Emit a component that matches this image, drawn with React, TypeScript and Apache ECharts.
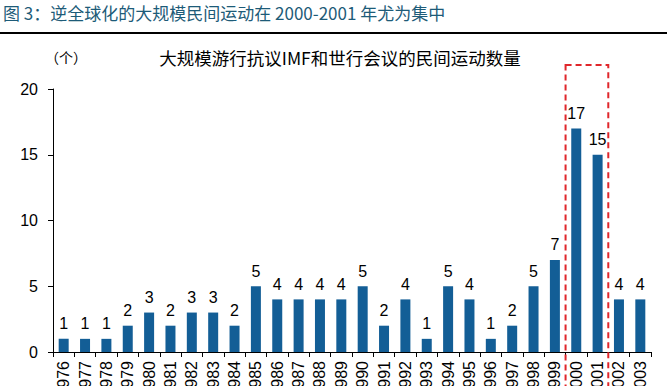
import React, { useEffect, useRef } from "react";
import * as echarts from "echarts";

const years = [
  "1976", "1977", "1978", "1979", "1980", "1981", "1982", "1983", "1984", "1985",
  "1986", "1987", "1988", "1989", "1990", "1991", "1992", "1993", "1994", "1995",
  "1996", "1997", "1998", "1999", "2000", "2001", "2002", "2003",
];
const counts = [1, 1, 1, 2, 3, 2, 3, 3, 2, 5, 4, 4, 4, 4, 5, 2, 4, 1, 5, 4, 1, 2, 5, 7, 17, 15, 4, 4];
const highlightYears = ["2000", "2001"];
const yTicks = { min: 0, max: 20, interval: 5 };

const mainTitle = "图 3：逆全球化的大规模民间运动在 2000-2001 年尤为集中";
const chartTitle = "大规模游行抗议IMF和世行会议的民间运动数量";
const unitLabel = "（个）";

const FONT = "'Liberation Sans', Arial, 'Noto Sans CJK SC', sans-serif";
const CJK = "'Noto Sans CJK SC', 'Liberation Sans', sans-serif";

export default function App() {
  const ref = useRef<HTMLDivElement>(null);
  useEffect(() => {
    if (!ref.current) return;
    const chart = echarts.init(ref.current, null, { renderer: "svg" });
    chart.setOption({
      animation: false,
      backgroundColor: "#ffffff",
      grid: {
        left: 53,
        right: 16,
        top: 89,
        bottom: 34,
        containLabel: false,
        outerBoundsMode: "none",
      },
      xAxis: {
        type: "category",
        data: years,
        axisLine: { lineStyle: { color: "#000", width: 1 } },
        axisTick: { show: true, alignWithLabel: false, length: 5, lineStyle: { color: "#000" } },
        axisLabel: {
          rotate: 90,
          interval: 0,
          margin: 9,
          fontSize: 16,
          color: "#000",
          fontFamily: FONT,
        },
      },
      yAxis: {
        type: "value",
        min: yTicks.min,
        max: yTicks.max,
        interval: yTicks.interval,
        axisLine: { show: true, lineStyle: { color: "#000", width: 1 } },
        axisTick: { show: true, length: 5, lineStyle: { color: "#000" } },
        splitLine: { show: false },
        axisLabel: { fontSize: 16, color: "#000", fontFamily: FONT, margin: 15 },
      },
      series: [
        {
          type: "bar",
          data: counts,
          barWidth: 10,
          itemStyle: { color: "#135e96" },
          label: {
            show: true,
            position: "top",
            distance: 7,
            fontSize: 16,
            color: "#000",
            fontFamily: FONT,
          },
        },
      ],
      graphic: [
        {
          type: "text",
          left: 3,
          top: 4,
          style: { text: mainTitle, fontSize: 17, fill: "#1d5b78", fontFamily: CJK },
        },
        {
          type: "rect",
          shape: { x: 0, y: 32, width: 667, height: 2 },
          style: { fill: "#000" },
        },
        {
          type: "text",
          x: 340,
          y: 57,
          style: {
            text: chartTitle,
            fontSize: 17.5,
            fill: "#000",
            fontFamily: CJK,
            align: "center",
            verticalAlign: "middle",
          },
        },
        {
          type: "text",
          x: 66,
          y: 57,
          style: {
            text: unitLabel,
            fontSize: 14,
            fill: "#000",
            fontFamily: CJK,
            align: "center",
            verticalAlign: "middle",
          },
        },
      ],
    });
    const c0 = chart.convertToPixel({ xAxisIndex: 0 }, highlightYears[0]) as number;
    const c1 = chart.convertToPixel({ xAxisIndex: 0 }, highlightYears[1]) as number;
    const band = c1 - c0;
    chart.setOption({
      graphic: [
        {
          id: "hl",
          type: "rect",
          z: 100,
          shape: { x: c0 - band / 2, y: 65, width: band * 2, height: 340 },
          style: { fill: "none", stroke: "#e0262b", lineWidth: 2, lineDash: [6, 4] },
        },
      ],
    });
    return () => chart.dispose();
  }, []);
  return (
    <div
      ref={ref}
      style={{ position: "fixed", left: 0, top: 0, width: 667, height: 386 }}
    />
  );
}
